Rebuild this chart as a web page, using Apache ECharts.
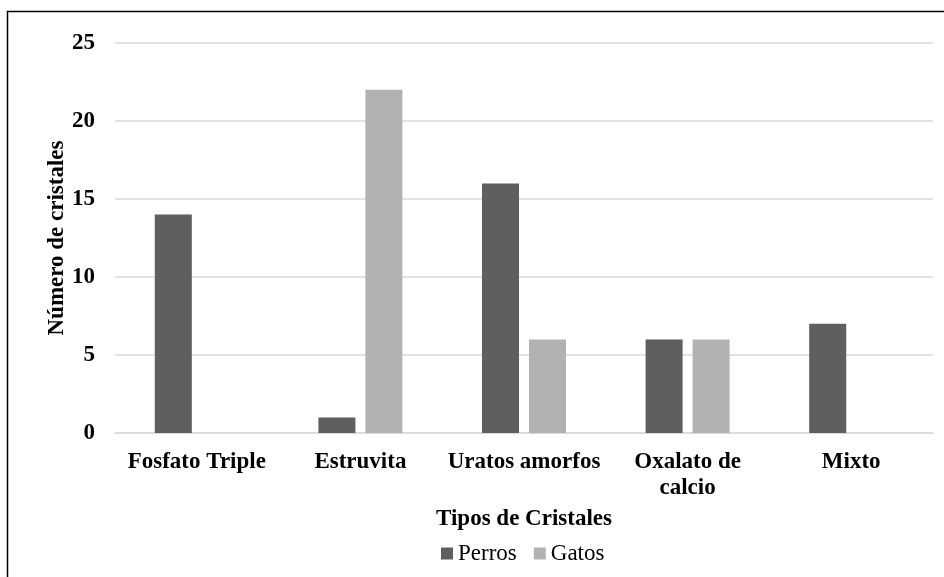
<!DOCTYPE html>
<html lang="en">
<head>
    <meta charset="UTF-8">
    <title>Tipos de Cristales</title>
    <script src="https://cdn.jsdelivr.net/npm/echarts@6/dist/echarts.min.js"></script>
    <style>
        html, body { margin: 0; padding: 0; background: #fff; }
        #chart { width: 944px; height: 577px; }
    </style>
</head>
<body>
<div id="chart"></div>
<script>
    var categories = ['Fosfato Triple', 'Estruvita', 'Uratos amorfos', 'Oxalato de\ncalcio', 'Mixto'];
    var perros = [14, 1, 16, 6, 7];
    var gatos = [0, 22, 6, 6, 0];
    var yTicks = [0, 5, 10, 15, 20, 25];

    var font = 'Liberation Serif, Times New Roman, serif';
    var chart = echarts.init(document.getElementById('chart'));

    var option = {
        animation: false,
        textStyle: { fontFamily: font, color: '#000' },
        graphic: [{
            type: 'rect',
            shape: { x: 7.5, y: 11.5, width: 1000, height: 1000 },
            style: { fill: 'none', stroke: '#000', lineWidth: 1.5 }
        }],
        grid: { left: 115, right: 11, top: 43, bottom: 144 },
        legend: {
            data: ['Perros', 'Gatos'],
            bottom: 12,
            left: 441,
            padding: 0,
            icon: 'rect',
            itemWidth: 12,
            itemHeight: 12,
            itemGap: 17,
            textStyle: { fontFamily: font, fontSize: 23, color: '#000' }
        },
        xAxis: {
            type: 'category',
            data: categories,
            name: 'Tipos de Cristales',
            nameLocation: 'middle',
            nameGap: 75,
            nameTextStyle: { fontFamily: font, fontSize: 23, fontWeight: 'bold', color: '#000' },
            axisLine: { lineStyle: { color: '#d9d9d9', width: 1.5 } },
            axisTick: { show: false },
            axisLabel: {
                fontFamily: font, fontSize: 23, fontWeight: 'bold', color: '#000',
                margin: 16, lineHeight: 26, interval: 0
            }
        },
        yAxis: {
            type: 'value',
            min: yTicks[0],
            max: yTicks[yTicks.length - 1],
            interval: 5,
            name: 'Número de cristales',
            nameLocation: 'middle',
            nameRotate: 90,
            nameGap: 46,
            nameMoveOverlap: false,
            nameTextStyle: { fontFamily: font, fontSize: 23, fontWeight: 'bold', color: '#000' },
            axisLine: { show: false },
            axisTick: { show: false },
            axisLabel: { fontFamily: font, fontSize: 23, fontWeight: 'bold', color: '#000', margin: 20 },
            splitLine: { lineStyle: { color: '#d9d9d9', width: 1.5 } }
        },
        series: [
            {
                name: 'Perros',
                type: 'bar',
                data: perros,
                barWidth: 37,
                barGap: '27%',
                itemStyle: { color: '#5f5f5f' }
            },
            {
                name: 'Gatos',
                type: 'bar',
                data: gatos,
                barWidth: 37,
                itemStyle: { color: '#b2b2b2' }
            }
        ]
    };

    chart.setOption(option);
</script>
</body>
</html>
